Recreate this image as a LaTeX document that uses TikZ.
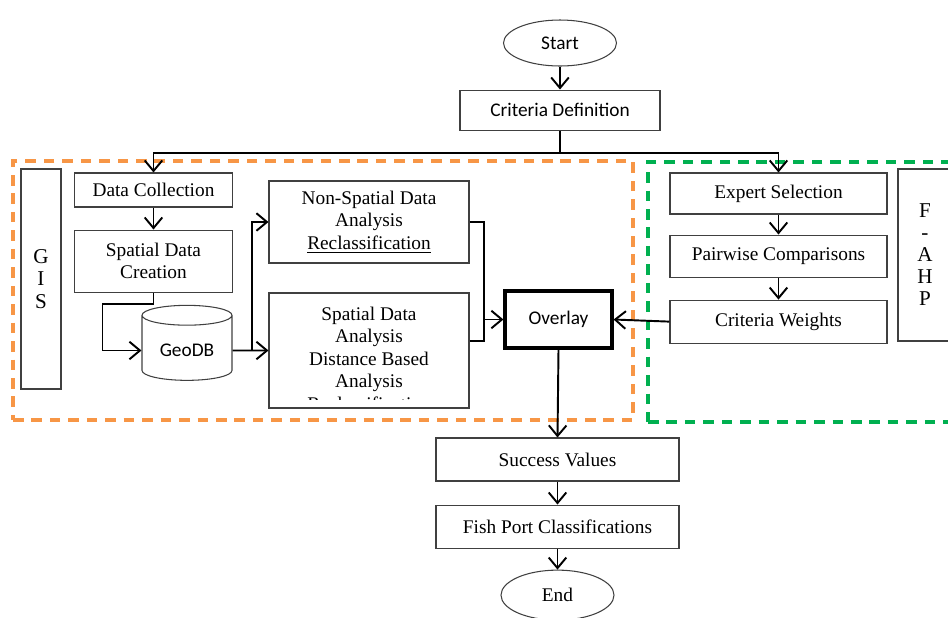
\documentclass[tikz,border=0pt]{standalone}
\usepackage{fontspec}
\setmainfont{Liberation Serif}
\newfontfamily\calibri{Carlito}
\usepackage{xcolor}
\usetikzlibrary{shapes,arrows.meta,positioning,fit,calc}

\definecolor{gisorange}{HTML}{F79646}
\definecolor{ahpgreen}{HTML}{00B050}

\begin{document}
\begin{tikzpicture}[
    font=\fontsize{11}{12.8}\selectfont,
    block/.style={rectangle, draw=black!75, line width=0.6pt, align=center, inner sep=2pt},
    terminal/.style={ellipse, draw=black!75, line width=0.6pt, minimum width=2.26cm, minimum height=0.92cm, inner sep=0pt},
    line/.style={draw, line width=1.1pt, -{Straight Barb[length=6pt,width=10pt]}},
    link/.style={draw, line width=1.1pt},
    group/.style={rectangle, draw, line width=1.8pt, dash pattern=on 6pt off 4.5pt, inner sep=0pt}
]
\useasboundingbox (0,0) rectangle (18.96,-12.34);

% Groups
\node [group, draw=gisorange, fit={(0.26,-3.22) (12.66,-8.4)}] (gisgroup) {};
\node [group, draw=ahpgreen, fit={(12.96,-3.24) (19.3,-8.44)}] (ahpgroup) {};

% Top
\node [terminal, font=\calibri\fontsize{11}{13}\selectfont] (start) at (11.2,-0.86) {Start};
\node [block, below=0.46cm of start, minimum width=4cm, minimum height=0.8cm, font=\calibri\fontsize{11}{13}\selectfont] (crit) {Criteria Definition};

% GIS side
\node [block, minimum width=0.8cm, minimum height=4.4cm, font=\fontsize{12}{13}\selectfont] (gis) at (0.82,-5.58) {G\\I\\S};
\node [block, minimum width=3.16cm, minimum height=0.68cm] (datacol) at (3.07,-3.8) {Data Collection};
\node [block, below=0.44cm of datacol, minimum width=3.16cm, minimum height=1.24cm] (sdc) {Spatial Data\\Creation};
\node [cylinder, shape border rotate=90, aspect=0.3, draw=black!75, line width=0.6pt, minimum width=1.8cm, minimum height=1.5cm, font=\calibri\fontsize{11}{13}\selectfont] (geodb) at (3.74,-7.01) {GeoDB};
\node [block, minimum width=4cm, minimum height=1.64cm] (nonsp) at (7.38,-4.44) {Non-Spatial Data\\Analysis\\\underline{Reclassification}};
\node [block, minimum width=4cm, minimum height=2.3cm] (spat) at (7.38,-7.01) {};
\begin{scope}
  \clip ([yshift=0.18cm]spat.south west) rectangle (spat.north east);
  \node [align=center, anchor=north, inner sep=0pt] (spattext) at ([yshift=-0.28cm]spat.north) {Spatial Data\\Analysis\\Distance Based\\Analysis\\Reclassification};
\end{scope}
\node [block, line width=1.8pt, draw=black, minimum width=2.14cm, minimum height=1.14cm, font=\calibri\fontsize{11}{13}\selectfont] (overlay) at (11.17,-6.39) {Overlay};

% F-AHP side
\node [block, minimum width=4.34cm, minimum height=0.82cm] (expert) at (15.57,-3.87) {Expert Selection};
\node [block, below=0.4cm of expert, minimum width=4.34cm, minimum height=0.84cm] (pairwise) {Pairwise Comparisons};
\node [block, below=0.44cm of pairwise, minimum width=4.34cm, minimum height=0.86cm] (weights) {Criteria Weights};
\node [block, minimum width=1.08cm, minimum height=3.44cm, font=\fontsize{12}{12.5}\selectfont] (fahp) at (18.5,-5.1) {F\\-\\A\\H\\P};

% Bottom
\node [block, minimum width=4.86cm, minimum height=0.86cm] (success) at (11.15,-9.19) {Success Values};
\node [block, below=0.46cm of success, minimum width=4.86cm, minimum height=0.86cm] (fishport) {Fish Port Classifications};
\node [terminal, below=0.42cm of fishport, minimum height=1.0cm] (end) {End};

% Connections
\coordinate (split) at ($(crit.south)+(0,-0.44)$);
\coordinate (join) at ($(overlay.west)+(-0.38,0)$);
\path [line] (start) -- (crit);
\path [link] (crit.south) -- (split);
\path [line] (split) -| (datacol.north);
\path [line] (split) -| (expert.north);
\path [line] (datacol) -- (sdc);
\path [line] (sdc.south) |- ++(-1.02,-0.22) |- (geodb.west);
\path [line] (geodb.east) -- (spat.west);
\path [line] (geodb.east) -- ++(0.38,0) |- (nonsp.west);
\path [link] (nonsp.east) -| (join);
\path [link] ([yshift=0.19cm]spat.east) -| (join);
\path [line] (join) -- (overlay.west);
\path [line] (expert) -- (pairwise);
\path [line] (pairwise) -- (weights);
\path [line] (weights.west) -- (overlay.east);
\path [line] (overlay.south) -- (success.north);
\path [line] (success) -- (fishport);
\path [line] (fishport) -- (end);
\end{tikzpicture}
\end{document}
